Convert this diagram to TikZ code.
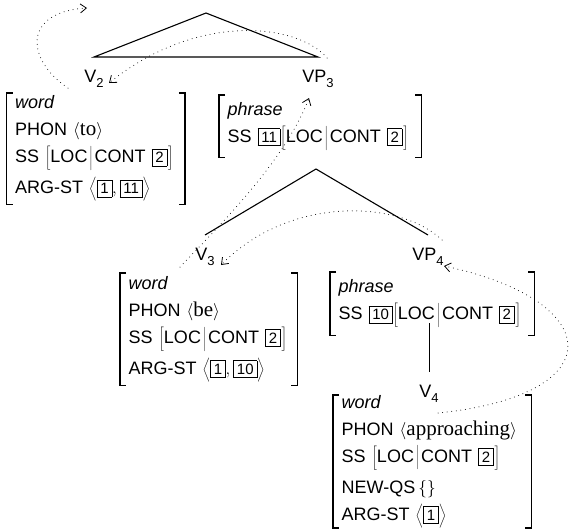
\documentclass[tikz,border=0pt]{standalone}
\usepackage{fontspec}
\setmainfont{Liberation Serif}
\setsansfont{Liberation Sans}
\usetikzlibrary{arrows.meta}
\newcommand\tg[1]{{\fboxsep=2.9pt\fboxrule=0.7pt\fbox{\sffamily\fontsize{15}{15}\selectfont #1}}}
\newcommand\dstrut{\rule[-6.5pt]{0pt}{22pt}}
\newcommand\lcont{$\left[\dstrut\mbox{LOC}\mkern2mu\middle|\mkern2mu\mbox{CONT}~\tg{2}\mkern1mu\right]$}
\newcommand\rmw[1]{{\rmfamily\fontsize{21}{27}\selectfont #1}}
\newcommand\treelab[2]{#1\raisebox{-5pt}{\fontsize{13}{13}\selectfont #2}}
\newcommand\avmbr[1]{%
  \draw[brk] ([xshift=6pt]#1.north west) -- (#1.north west) -- (#1.south west) -- ([xshift=6pt]#1.south west);
  \draw[brk] ([xshift=-6pt]#1.north east) -- (#1.north east) -- (#1.south east) -- ([xshift=-6pt]#1.south east);}
\begin{document}
\begin{tikzpicture}[x=1pt,y=-1pt,
  every node/.style={font=\sffamily\fontsize{18}{27}\selectfont},
  lbl/.style={anchor=north, inner sep=0pt, outer ysep=13pt},
  avm/.style={anchor=north west, inner xsep=8.5pt, inner ysep=0pt, align=left},
  brk/.style={line width=1.3pt},
  branch/.style={line width=1.1pt},
  dots/.style={line width=1pt, line cap=round, dash pattern=on 0pt off 4.6pt,
    -{Straight Barb[length=6pt,width=9pt,line width=0.8pt]}},
]
\useasboundingbox (0,0) rectangle (569,530);

% tree labels
\coordinate (top) at (206,13);
\node[lbl] (V2) at (94,57) {\treelab{V}{2}};
\node[lbl] (VP3) at (318,57) {\treelab{VP}{3}};
\node[lbl] (V3) at (205,235) {\treelab{V}{3}};
\node[lbl] (VP4) at (428,235) {\treelab{VP}{4}};
\node[lbl] (V4) at (429,372) {\treelab{V}{4}};

% AVMs
\node[avm, text width=161pt, minimum height=111pt] (w2) at (6.5,93) {%
  \mbox{\textit{word}}\\
  \mbox{PHON $\langle$\rmw{to}$\rangle$}\\
  \mbox{SS \lcont}\\[4pt]
  \mbox{ARG-ST $\left\langle\dstrut\tg{1},\tg{11}\right\rangle$}};
\node[avm, text width=185pt, minimum height=62pt] (p3) at (219,95) {%
  \mbox{\textit{phrase}}\\
  \mbox{SS \tg{11}\lcont}};
\node[avm, text width=160pt, minimum height=112pt] (w3) at (120,273) {%
  \mbox{\textit{word}}\\
  \mbox{PHON $\langle$\rmw{be}$\rangle$}\\
  \mbox{SS \lcont}\\[4pt]
  \mbox{ARG-ST $\left\langle\dstrut\tg{1},\tg{10}\right\rangle$}};
\node[avm, text width=187pt, minimum height=63pt] (p4) at (330,272) {%
  \mbox{\textit{phrase}}\\
  \mbox{SS \tg{10}\lcont}};
\node[avm, text width=181pt, minimum height=127pt] (w4) at (333,395) {%
  \mbox{\textit{word}}\\
  \mbox{PHON $\langle$\rmw{approaching}$\rangle$}\\
  \mbox{SS \lcont}\\[4pt]
  \mbox{NEW-QS\,$\{\}$}\\
  \mbox{ARG-ST $\left\langle\dstrut\tg{1}\right\rangle$}};
\avmbr{w2}
\avmbr{p3}
\avmbr{w3}
\avmbr{p4}
\avmbr{w4}

% tree branches
\draw[branch] (top) -- (V2.north) -- (VP3.north) -- cycle;
\coordinate (top2) at (316,169);
\draw[branch] (V3.north) -- (top2) -- (VP4.north);
\draw[line width=0.7pt] ([yshift=12pt]p4.south -| V4.north) -- (V4.north);

% dotted arrows
\coordinate (a1s) at (68,88);
\coordinate (a1e) at (87,8);
\draw[dots] (a1s) .. controls (26,60) and (22,12) .. (a1e);
\coordinate (a2s) at (327,58);
\coordinate (a2e) at (109,83);
\draw[dots] (a2s) .. controls (300,25) and (200,10) .. (a2e);
\coordinate (a3s) at (180,267);
\coordinate (a3e) at (309,98);
\draw[dots] (a3s) .. controls (225,220) and (285,160) .. (a3e);
\coordinate (a4s) at (442,240);
\coordinate (a4e) at (221,265);
\draw[dots] (a4s) .. controls (400,200) and (290,195) .. (a4e);
\coordinate (a5s) at (438,413);
\coordinate (a5e) at (444,266);
\draw[dots] (a5s) .. controls (615,395) and (605,300) .. (a5e);
\end{tikzpicture}
\end{document}
